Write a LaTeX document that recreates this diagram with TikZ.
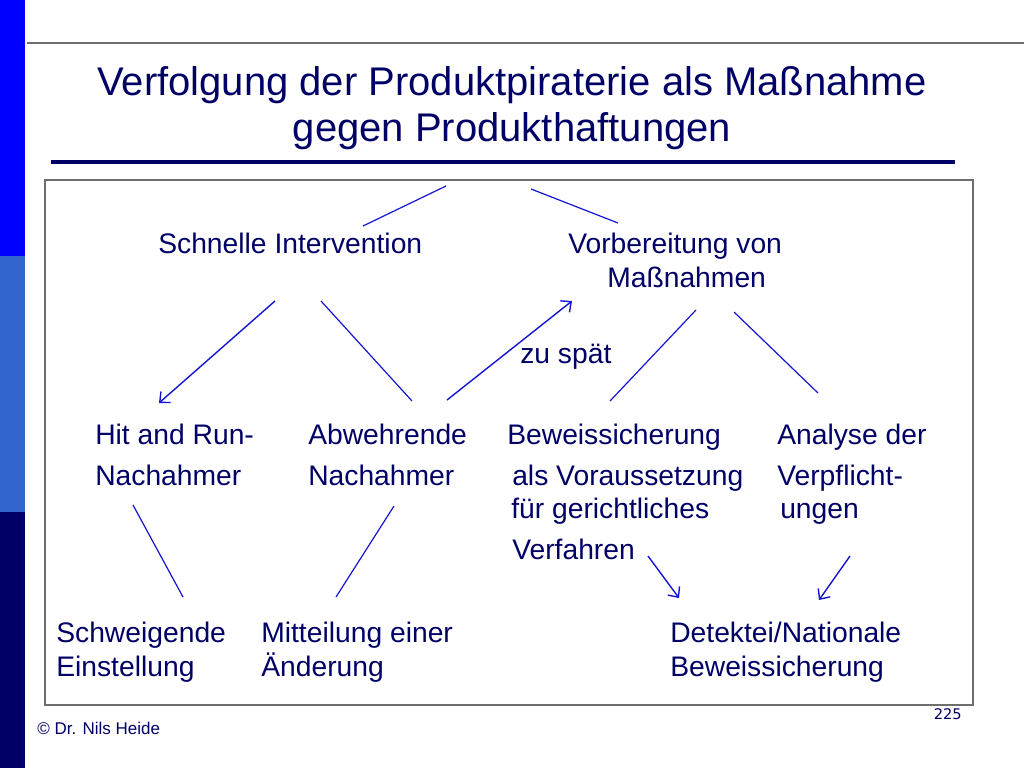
\documentclass[tikz,border=0pt]{standalone}
\usepackage{fontspec}
\setmainfont{Liberation Sans}
\newfontfamily\pagefont{DejaVu Sans}
\usetikzlibrary{arrows.meta}
\definecolor{navy}{RGB}{0,0,102}
\definecolor{lineblue}{RGB}{20,20,210}
\definecolor{barblue}{RGB}{0,0,255}
\definecolor{barmid}{RGB}{51,102,204}
\definecolor{bardark}{RGB}{0,0,102}
\definecolor{framegray}{RGB}{110,110,110}
\begin{document}
\begin{tikzpicture}[x=0.75pt,y=-0.75pt,
  txt/.style={anchor=base west,inner sep=0,text=navy,font=\fontsize{21.2}{25}\selectfont},
  ttl/.style={anchor=base,inner sep=0,text=navy,font=\fontsize{30}{35}\selectfont},
  link/.style={draw=lineblue,line width=0.9pt},
  arr/.style={draw=lineblue,line width=1.05pt,-{Straight Barb[length=6pt,width=11pt]}}]
\useasboundingbox (0,0) rectangle (1024,768);
\fill[white] (0,0) rectangle (1024,768);
% side bar
\fill[barblue] (0,0) rectangle (25,256);
\fill[barmid] (0,256) rectangle (25,512);
\fill[bardark] (0,512) rectangle (25,768);
\draw[framegray,line width=1.1pt] (27,43) -- (1024,43);
% title
\node[ttl] (t1) at (512,95) {Verfolgung der Produktpiraterie als Maßnahme};
\node[ttl] (t2) at (512,141) {gegen Produkthaftungen};
\draw[navy,line width=2.3pt] (51,162) -- (955,162);
% frame
\draw[framegray,line width=0.9pt] (45,180) rectangle (973,705);
% texts
\node[txt] (si) at (158,253) {Schnelle Intervention};
\node[txt] (vm1) at (568,253) {Vorbereitung von};
\node[txt] (vm2) at (607,287) {Maßnahmen};
\node[txt] (zs) at (520,363) {zu spät};
\node[txt] (hr1) at (95,444) {Hit and Run-};
\node[txt] (hr2) at (95,485) {Nachahmer};
\node[txt] (ab1) at (308,444) {Abwehrende};
\node[txt] (ab2) at (308,485) {Nachahmer};
\node[txt] (bw1) at (507,444) {Beweissicherung};
\node[txt] (bw2) at (512,485) {als Voraussetzung};
\node[txt] (bw3) at (511,518) {für gerichtliches};
\node[txt] (bw4) at (512,559) {Verfahren};
\node[txt] (an1) at (777,444) {Analyse der};
\node[txt] (an2) at (777,485) {Verpflicht-};
\node[txt] (an3) at (780,518) {ungen};
\node[txt] (sw1) at (56,642) {Schweigende};
\node[txt] (sw2) at (56,676) {Einstellung};
\node[txt] (mi1) at (261,642) {Mitteilung einer};
\node[txt] (mi2) at (261,676) {Änderung};
\node[txt] (de1) at (670,642) {Detektei/Nationale};
\node[txt] (de2) at (670,676) {Beweissicherung};
% footer
\node[anchor=base west,inner sep=0,text=navy,font=\fontsize{12.75}{15}\selectfont] (ft) at (37,734) {© Dr. Nils Heide};
\node[anchor=base east,inner sep=0,text=navy,font=\pagefont\fontsize{11}{12}\selectfont] (pg) at (962,719) {225};
% connector end points
\coordinate (c1a) at (446,186); \coordinate (c1b) at (363,226);
\coordinate (c2a) at (531,189); \coordinate (c2b) at (618,223);
\coordinate (c3a) at (275,301); \coordinate (c3b) at (159,403);
\coordinate (c4a) at (321,301); \coordinate (c4b) at (412,401);
\coordinate (c5a) at (447,400); \coordinate (c5b) at (572,301);
\coordinate (c6a) at (696,310); \coordinate (c6b) at (610,401);
\coordinate (c7a) at (734,312); \coordinate (c7b) at (818,393);
\coordinate (c8a) at (133,505); \coordinate (c8b) at (183,597);
\coordinate (c9a) at (394,506); \coordinate (c9b) at (336,597);
\coordinate (c10a) at (648,556); \coordinate (c10b) at (679,598);
\coordinate (c11a) at (850,556); \coordinate (c11b) at (819,600);
% connectors
\draw[link] (c1a) -- (c1b);
\draw[link] (c2a) -- (c2b);
\draw[arr] (c3a) -- (c3b);
\draw[link] (c4a) -- (c4b);
\draw[arr] (c5a) -- (c5b);
\draw[link] (c6a) -- (c6b);
\draw[link] (c7a) -- (c7b);
\draw[link] (c8a) -- (c8b);
\draw[link] (c9a) -- (c9b);
\draw[arr] (c10a) -- (c10b);
\draw[arr] (c11a) -- (c11b);
\end{tikzpicture}
\end{document}
